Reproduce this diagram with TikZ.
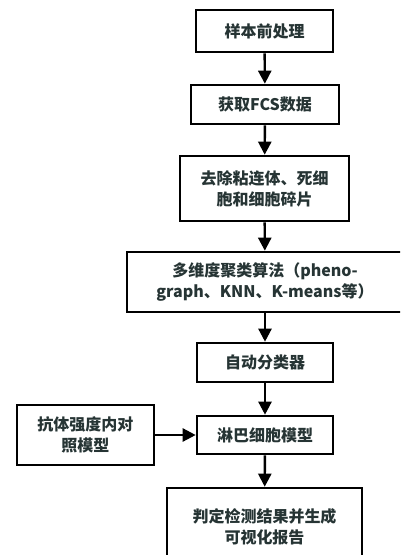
\documentclass[tikz,border=0pt]{standalone}
\usepackage{fontspec}
\setmainfont{Noto Sans CJK SC}
\usetikzlibrary{arrows.meta}
\definecolor{txt}{HTML}{263434}
\begin{document}
\begin{tikzpicture}[x=1pt,y=-1pt,
  box/.style={draw=black,line width=2.6pt,rectangle,inner sep=0pt,align=center,
    text=txt,font=\fontsize{16}{21}\selectfont\bfseries},
  arr/.style={line width=2.4pt,-{Triangle[width=13pt,length=13pt]}}]
\useasboundingbox (0,0) rectangle (400,555);
\fill[white] (0,0) rectangle (400,555);
\begin{scope}
\clip (0,0) rectangle (400,555);
\node[box,minimum width=137pt,minimum height=42pt] (b1) at (264.5,31) {样本前处理};
\node[box,minimum width=148pt,minimum height=39pt] (b2) at (265,104.5) {获取FCS数据};
\node[box,minimum width=169pt,minimum height=65pt] (b3) at (264.5,188.5) {去除粘连体、死细\\胞和细胞碎片};
\node[box,minimum width=276pt,minimum height=60pt] (b4) at (265,282) {多维度聚类算法（pheno-\\graph、KNN、K-means等）};
\node[box,minimum width=136pt,minimum height=39pt] (b5) at (265,362.5) {自动分类器};
\node[box,minimum width=136pt,minimum height=38pt] (b6) at (265,435) {淋巴细胞模型};
\node[box,minimum width=137pt,minimum height=60pt] (l) at (85.5,435) {抗体强度内对\\照模型};
\node[box,minimum width=195pt,minimum height=78pt] (b7) at (264.5,527) {判定检测结果并生成\\可视化报告};
\draw[arr] (b1) -- (b2);
\draw[arr] (b2) -- (b3);
\draw[arr] (b3) -- (b4);
\draw[arr] (b4) -- (b5);
\draw[arr] (b5) -- (b6);
\draw[arr] (b6) -- (b7);
\draw[arr] (l) -- (b6);
\end{scope}
\end{tikzpicture}
\end{document}
